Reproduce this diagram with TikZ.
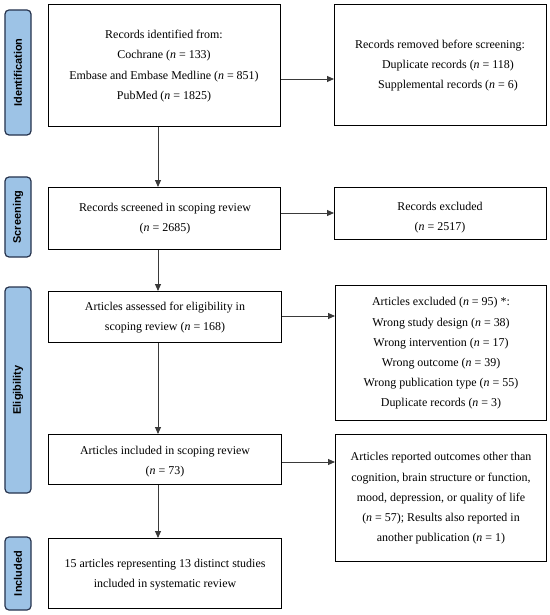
\documentclass[tikz,border=0pt]{standalone}
\usepackage{fontspec}
\setmainfont{Liberation Serif}
\newfontfamily\labelfont{Liberation Sans}
\usetikzlibrary{arrows.meta}
\definecolor{phasefill}{HTML}{9DC3E6}
\definecolor{phaseline}{HTML}{26334D}
\definecolor{arrowgrey}{HTML}{3A3A3A}
\begin{document}
\begin{tikzpicture}[x=1bp,y=-1bp,
  box/.style={draw=black, line width=1.2bp, inner sep=0, anchor=north west},
  txt/.style={align=center, font=\fontsize{12}{20.3}\selectfont, inner sep=0},
  phase/.style={draw=phaseline, fill=phasefill, line width=1.2bp, rounded corners=4bp,
    rotate=90, minimum height=26bp, inner sep=0,
    font=\labelfont\bfseries\fontsize{11}{13}\selectfont},
  arr/.style={draw=arrowgrey, line width=0.9bp, -{Triangle[length=7bp,width=6bp]}}]

\useasboundingbox (0,0) rectangle (550,615);

% phase labels
\node[phase, minimum width=125bp] (p1) at (18,72.5) {Identification};
\node[phase, minimum width=80bp]  (p2) at (18,217) {Screening};
\node[phase, minimum width=206bp] (p3) at (18,390) {Eligibility};
\node[phase, minimum width=73bp]  (p4) at (18,573.5) {Included};

% boxes
\node[box, minimum width=232bp, minimum height=122bp] (b1) at (48,4) {};
\node[box, minimum width=212bp, minimum height=121bp] (b2) at (334,4) {};
\node[box, minimum width=232bp, minimum height=62bp]  (b3) at (48,187) {};
\node[box, minimum width=212bp, minimum height=52bp]  (b4) at (334,187) {};
\node[box, minimum width=233bp, minimum height=51bp]  (b5) at (48,291) {};
\node[box, minimum width=211bp, minimum height=135bp] (b6) at (335,285) {};
\node[box, minimum width=233bp, minimum height=50bp]  (b7) at (48,434) {};
\node[box, minimum width=211bp, minimum height=127bp] (b8) at (335,434) {};
\node[box, minimum width=233bp, minimum height=70bp]  (b9) at (48,538) {};

% texts
\node[txt] (t1) at (164,66) {Records identified from:\\ Cochrane (\textit{n} = 133)\\ Embase and Embase Medline (\textit{n} = 851)\\ PubMed (\textit{n} = 1825)};
\node[txt] (t2) at (440,65.5) {Records removed before screening:\\ \hspace*{16bp}Duplicate records (\textit{n} = 118)\\ \hspace*{16bp}Supplemental records (\textit{n} = 6)};
\node[txt] (t3) at (165,219) {Records screened in scoping review\\ (\textit{n} = 2685)};
\node[txt] (t4) at (440,218) {Records excluded\\ (\textit{n} = 2517)};
\node[txt] (t5) at (165,317.5) {Articles assessed for eligibility in\\ scoping review (\textit{n} = 168)};
\node[txt] (t6) at (441,353.5) {Articles excluded (\textit{n} = 95) *:\\ Wrong study design (\textit{n} = 38)\\ Wrong intervention (\textit{n} = 17)\\ Wrong outcome (\textit{n} = 39)\\ Wrong publication type (\textit{n} = 55)\\ Duplicate records (\textit{n} = 3)};
\node[txt] (t7) at (165,462) {Articles included in scoping review\\ (\textit{n} = 73)};
\node[txt] (t8) at (441,498.5) {Articles reported outcomes other than\\ cognition, brain structure or function,\\ mood, depression, or quality of life\\ (\textit{n} = 57); Results also reported in\\ another publication (\textit{n} = 1)};
\node[txt] (t9) at (165,575) {15 articles representing 13 distinct studies\\ included in systematic review};

% connector guides
\coordinate (ax) at (158,0);
\coordinate (h1) at (0,79);
\coordinate (h2) at (0,213);
\coordinate (h3) at (0,316);
\coordinate (h4) at (0,462);

% vertical arrows
\draw[arr] (b1.south -| ax) -- (b3.north -| ax);
\draw[arr] (b3.south -| ax) -- (b5.north -| ax);
\draw[arr] (b5.south -| ax) -- (b7.north -| ax);
\draw[arr] (b7.south -| ax) -- (b9.north -| ax);

% horizontal arrows
\draw[arr] (b1.east |- h1) -- (b2.west |- h1);
\draw[arr] (b3.east |- h2) -- (b4.west |- h2);
\draw[arr] (b5.east |- h3) -- (b6.west |- h3);
\draw[arr] (b7.east |- h4) -- (b8.west |- h4);
\end{tikzpicture}
\end{document}
